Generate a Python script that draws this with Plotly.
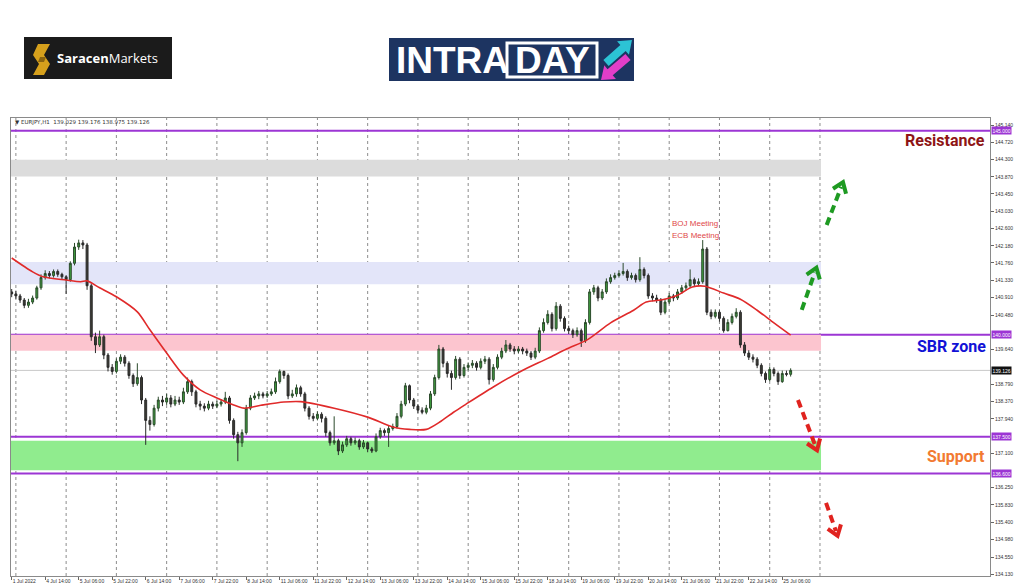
import math
import plotly.graph_objects as go

# ---------------- data ----------------
bar_index = list(range(0, 373, 2))          # 2-hour candles on an hourly bar index
first_open = 141.05
closes = [141.00, 140.95, 140.85, 140.72, 140.80, 140.90, 141.15, 141.40, 141.50, 141.45,
          141.55, 141.48, 141.42, 141.35, 141.75, 142.15, 142.25, 142.20, 141.20, 139.95,
          139.75, 139.95, 139.50, 139.20, 139.10, 139.35, 139.45, 139.30, 139.00, 138.80,
          138.95, 138.40, 137.90, 137.80, 138.20, 138.40, 138.35, 138.45, 138.30, 138.40,
          138.35, 138.60, 138.85, 138.60, 138.30, 138.25, 138.20, 138.30, 138.25, 138.30,
          138.35, 138.45, 137.90, 137.55, 137.35, 137.60, 138.20, 138.45, 138.50, 138.55,
          138.50, 138.55, 138.60, 138.85, 139.10, 139.00, 138.50, 138.55, 138.70, 138.55,
          138.20, 138.00, 137.95, 138.05, 137.95, 137.60, 137.35, 137.40, 137.15, 137.30,
          137.45, 137.35, 137.40, 137.25, 137.35, 137.20, 137.15, 137.50, 137.65, 137.60,
          137.70, 137.75, 138.00, 138.30, 138.75, 138.40, 138.25, 138.15, 138.10, 138.20,
          138.55, 138.95, 139.65, 139.30, 139.05, 138.95, 139.40, 139.00, 139.20, 139.25,
          139.30, 139.20, 139.35, 139.40, 138.90, 139.20, 139.45, 139.60, 139.75, 139.65,
          139.60, 139.65, 139.60, 139.55, 139.45, 139.60, 140.10, 140.30, 140.50, 140.15,
          140.70, 140.40, 140.15, 140.10, 140.00, 140.10, 139.85, 140.30, 141.05, 141.15,
          140.90, 141.05, 141.30, 141.40, 141.45, 141.50, 141.55, 141.40, 141.45, 141.35,
          141.60, 141.45, 140.95, 140.90, 140.85, 140.55, 140.80, 140.95, 140.90, 141.05,
          141.15, 141.20, 141.35, 141.25, 141.30, 142.10, 140.55, 140.45, 140.55, 140.40,
          140.10, 140.30, 140.45, 140.55, 139.75, 139.55, 139.45, 139.40, 139.25, 139.05,
          138.90, 139.15, 139.05, 138.85, 139.05, 139.029, 139.126]
highs = [141.12, 141.08, 141.00, 140.90, 140.88, 140.96, 141.20, 141.48, 141.58, 141.56,
         141.60, 141.60, 141.52, 141.46, 141.80, 142.25, 142.33, 142.32, 142.25, 141.25,
         140.05, 140.10, 140.00, 139.55, 139.28, 139.42, 139.52, 139.50, 139.35, 139.05,
         139.30, 139.00, 138.45, 138.00, 138.28, 138.48, 138.50, 138.55, 138.52, 138.50,
         138.48, 138.70, 138.95, 138.90, 138.65, 138.38, 138.32, 138.38, 138.36, 138.38,
         138.42, 138.60, 138.50, 137.95, 137.62, 137.68, 138.28, 138.52, 138.58, 138.62,
         138.60, 138.62, 138.68, 138.95, 139.15, 139.12, 139.05, 138.65, 138.78, 138.75,
         138.60, 138.25, 138.08, 138.12, 138.10, 138.00, 137.65, 138.00, 137.45, 137.38,
         137.52, 137.50, 137.48, 137.45, 137.42, 137.38, 137.25, 137.58, 137.72, 137.70,
         137.78, 137.82, 138.08, 138.38, 138.82, 138.78, 138.45, 138.30, 138.22, 138.28,
         138.62, 139.02, 139.75, 139.70, 139.35, 139.12, 139.48, 139.45, 139.28, 139.32,
         139.38, 139.35, 139.42, 139.48, 139.45, 139.28, 139.52, 139.68, 139.87, 139.80,
         139.72, 139.72, 139.70, 139.66, 139.60, 139.68, 140.18, 140.40, 140.60, 140.55,
         140.80, 140.75, 140.45, 140.22, 140.15, 140.18, 140.15, 140.38, 141.12, 141.22,
         141.20, 141.12, 141.38, 141.48, 141.52, 141.58, 141.76, 141.60, 141.52, 141.50,
         141.90, 141.65, 141.50, 141.02, 140.98, 140.90, 140.88, 141.02, 141.00, 141.12,
         141.22, 141.28, 141.60, 141.40, 141.38, 142.32, 142.15, 140.62, 140.62, 140.60,
         140.45, 140.38, 140.52, 140.65, 140.60, 139.82, 139.62, 139.52, 139.45, 139.30,
         139.10, 139.22, 139.20, 139.10, 139.12, 139.12, 139.176]
lows = [140.92, 140.88, 140.78, 140.65, 140.66, 140.75, 140.86, 141.10, 141.35, 141.38,
        141.40, 141.42, 141.35, 141.00, 141.30, 141.70, 142.08, 142.10, 141.10, 139.85,
        139.55, 139.70, 139.40, 139.10, 139.02, 139.05, 139.28, 139.22, 138.92, 138.72,
        138.75, 138.30, 137.30, 137.65, 137.75, 138.12, 138.25, 138.28, 138.22, 138.25,
        138.28, 138.30, 138.55, 138.50, 138.22, 138.15, 138.12, 138.15, 138.18, 138.20,
        138.24, 138.30, 137.82, 137.45, 136.90, 137.25, 137.55, 138.15, 138.40, 138.42,
        138.44, 138.45, 138.50, 138.55, 138.80, 138.92, 138.42, 138.45, 138.48, 138.48,
        138.12, 137.92, 137.88, 137.90, 137.85, 137.50, 137.28, 137.30, 137.05, 137.10,
        137.25, 137.28, 137.30, 137.18, 137.20, 137.12, 137.10, 137.12, 137.45, 137.52,
        137.25, 137.65, 137.70, 137.95, 138.25, 138.32, 138.18, 138.08, 138.05, 138.05,
        138.15, 138.50, 138.90, 139.20, 138.95, 138.65, 138.90, 138.92, 138.95, 139.12,
        139.18, 139.12, 139.15, 139.28, 138.78, 138.85, 139.15, 139.40, 139.55, 139.58,
        139.52, 139.55, 139.52, 139.48, 139.38, 139.40, 139.55, 140.05, 140.25, 140.08,
        140.10, 140.32, 140.08, 140.02, 139.92, 139.95, 139.70, 139.80, 140.25, 140.98,
        140.82, 140.85, 141.00, 141.25, 141.35, 141.40, 141.45, 141.32, 141.35, 141.28,
        141.30, 141.38, 140.88, 140.82, 140.78, 140.48, 140.50, 140.75, 140.82, 140.85,
        141.00, 141.08, 141.15, 141.18, 141.20, 141.25, 140.48, 140.38, 140.40, 140.32,
        140.05, 140.08, 140.25, 140.40, 139.68, 139.48, 139.38, 139.32, 139.18, 138.98,
        138.82, 138.86, 138.98, 138.77, 138.82, 138.98, 138.975]
opens = [first_open] + closes[:-1]

ma_index = [0, 10, 15, 26, 33, 36, 42, 50, 60, 66, 74, 82, 90, 98, 106, 111, 119, 130, 138, 154,
            170, 182, 190, 198, 205, 211, 217, 230, 243, 256, 265, 275, 286, 297, 303, 310, 318,
            325, 331, 340, 348, 356, 364, 372]
ma_values = [141.88, 141.54, 141.42, 141.34, 141.30, 141.32, 141.15, 140.93, 140.56, 140.12,
             139.55, 139.01, 138.65, 138.45, 138.28, 138.20, 138.27, 138.35, 138.36, 138.20,
             137.98, 137.74, 137.68, 137.68, 137.88, 138.10, 138.30, 138.72, 139.10, 139.42,
             139.65, 139.88, 140.29, 140.60, 140.80, 140.85, 140.97, 141.17, 141.19, 141.02,
             140.87, 140.60, 140.29, 139.99]

x_tick_labels = ["1 Jul 2022", "4 Jul 14:00", "5 Jul 06:00", "5 Jul 22:00", "6 Jul 14:00",
                 "7 Jul 06:00", "7 Jul 22:00", "8 Jul 14:00", "11 Jul 06:00", "11 Jul 22:00",
                 "12 Jul 14:00", "13 Jul 06:00", "13 Jul 22:00", "14 Jul 14:00", "15 Jul 06:00",
                 "15 Jul 22:00", "18 Jul 14:00", "19 Jul 06:00", "19 Jul 22:00", "20 Jul 14:00",
                 "21 Jul 06:00", "21 Jul 22:00", "22 Jul 14:00", "25 Jul 06:00"]
x_tick_index = list(range(0, 369, 16))
# price-scale labels (those hidden behind the level boxes are left out)
y_tick_values = [145.140, 144.720, 144.300, 143.870, 143.450, 143.030, 142.600, 142.180,
                 141.760, 141.330, 140.910, 140.480, 139.640,
                 138.790, 138.370, 137.940, 137.100, 136.250, 135.830, 135.400,
                 134.980, 134.550, 134.130]
grid_index = list(range(2, 387, 24))

level_lines = [145.000, 140.000, 137.500, 136.600]
current_price = 139.126
zones = [(143.88, 144.29, "#dcdcdc"), (141.24, 141.78, "#e3e5f9"),
         (139.61, 140.00, "#fcc5cf"), (136.68, 137.40, "#90ec8e")]
zone_end = 386.5

# arrows (bar index, price): tail -> tip
arrows = [((389.2, 142.69), (397.0, 143.74), "#1e9a22"),
          ((377.3, 140.61), (384.3, 141.64), "#1e9a22"),
          ((375.5, 138.40), (384.6, 137.17), "#e0231f"),
          ((388.9, 135.88), (394.4, 135.07), "#e0231f")]

# ---------------- geometry ----------------
W, H = 1024, 587
L, R, T, B = 11, 990, 118, 576
X0, X1 = -0.33, 467.2
Y0, Y1 = 134.086, 145.312
AXIS_FONT = 5


def d2p(x, y):
    return (L + (x - X0) / (X1 - X0) * (R - L), B - (y - Y0) / (Y1 - Y0) * (B - T))


def p2d(px, py):
    return (X0 + (px - L) / (R - L) * (X1 - X0), Y0 + (B - py) / (B - T) * (Y1 - Y0))


def pp(px, py):
    return ((px - L) / (R - L), (B - py) / (B - T))


fig = go.Figure()

fig.add_trace(go.Candlestick(
    x=bar_index, open=opens, high=highs, low=lows, close=closes,
    increasing=dict(line=dict(color="#2b4a2b", width=1), fillcolor="#3f9f3f"),
    decreasing=dict(line=dict(color="#2a2a2a", width=1), fillcolor="#3c3c34"),
    showlegend=False, hoverinfo="skip"))

fig.add_trace(go.Scatter(x=ma_index, y=ma_values, mode="lines",
                         line=dict(color="#e02a2a", width=1.6, shape="spline", smoothing=0.8),
                         showlegend=False, hoverinfo="skip"))

shapes = []
for gi in grid_index:
    shapes.append(dict(type="line", xref="x", yref="paper", x0=gi, x1=gi, y0=0, y1=1,
                       line=dict(color="#8c8c8c", width=1, dash="dot"), layer="below"))
for lo, hi, col in zones:
    shapes.append(dict(type="rect", xref="x", yref="y", x0=X0, x1=zone_end, y0=lo, y1=hi,
                       fillcolor=col, line=dict(width=0), layer="below"))
shapes.append(dict(type="line", xref="paper", yref="y", x0=0, x1=1, y0=current_price, y1=current_price,
                   line=dict(color="#c8c8c8", width=1), layer="below"))
for lv in level_lines:
    shapes.append(dict(type="line", xref="paper", yref="y", x0=0, x1=1, y0=lv, y1=lv,
                       line=dict(color="#9c36d4", width=2), layer="below"))

# dashed arrows
for tail, tip, col in arrows:
    tx, ty = d2p(*tail)
    hx, hy = d2p(*tip)
    dx, dy = hx - tx, hy - ty
    ln = math.hypot(dx, dy)
    ux, uy = dx / ln, dy / ln
    ex, ey = hx - ux * 5, hy - uy * 5
    a0 = p2d(tx, ty)
    a1 = p2d(ex, ey)
    shapes.append(dict(type="line", xref="x", yref="y", x0=a0[0], y0=a0[1], x1=a1[0], y1=a1[1],
                       line=dict(color=col, width=4, dash="8px,5px"), layer="above"))
    pts = []
    for ang in (0.62, -0.62):
        c, s = math.cos(ang), math.sin(ang)
        bx, by = -ux * c + uy * s, -ux * s - uy * c
        pts.append(p2d(hx + bx * 12, hy + by * 12))
    tp = p2d(hx, hy)
    path = "M %f,%f L %f,%f L %f,%f" % (pts[0][0], pts[0][1], tp[0], tp[1], pts[1][0], pts[1][1])
    shapes.append(dict(type="path", xref="x", yref="y", path=path,
                       line=dict(color=col, width=4), layer="above"))


# logos (paper coordinates from pixel helpers)
def rect_px(x0, y0, x1, y1, fill, line=None):
    a = pp(x0, y1)
    b = pp(x1, y0)
    return dict(type="rect", xref="paper", yref="paper", x0=a[0], y0=a[1], x1=b[0], y1=b[1],
                fillcolor=fill, line=line or dict(width=0), layer="above")


def poly_px(points, fill):
    conv = [pp(*p) for p in points]
    path = "M " + " L ".join("%f,%f" % c for c in conv) + " Z"
    return dict(type="path", xref="paper", yref="paper", path=path, fillcolor=fill,
                line=dict(width=0), layer="above")


def arrow_poly(tail, tip, sw, hw, hl):
    dx, dy = tip[0] - tail[0], tip[1] - tail[1]
    ln = math.hypot(dx, dy)
    ux, uy = dx / ln, dy / ln
    nx, ny = -uy, ux
    bx, by = tip[0] - ux * hl, tip[1] - uy * hl
    return [(tail[0] + nx * sw, tail[1] + ny * sw), (bx + nx * sw, by + ny * sw),
            (bx + nx * hw, by + ny * hw), tip, (bx - nx * hw, by - ny * hw),
            (bx - nx * sw, by - ny * sw), (tail[0] - nx * sw, tail[1] - ny * sw)]


shapes.append(rect_px(24, 37, 172, 79, "#1b1b1b"))
shapes.append(poly_px([(38, 44), (50, 44), (44, 55), (50, 64), (44, 75), (33, 75), (39, 64), (33, 55)], "#d6a01c"))
shapes.append(poly_px([(40, 57), (46, 57), (44, 62), (38, 62)], "#8a6410"))
shapes.append(rect_px(389, 38, 634, 81, "#1d3461"))
shapes.append(rect_px(507, 43, 597, 77, "rgba(0,0,0,0)", dict(color="white", width=3)))
shapes.append(poly_px(arrow_poly((606, 63), (632, 40), 4, 9, 12), "#2cc3d5"))
shapes.append(poly_px(arrow_poly((628, 57), (601, 80), 4, 9, 12), "#e23ec8"))

annotations = []


def txt(px, py, text, size, color, anchor="left", family="Liberation Sans, Arial", **kw):
    x, y = pp(px, py)
    annotations.append(dict(x=x, y=y, xref="paper", yref="paper", text=text, showarrow=False,
                            xanchor=anchor, yanchor="middle",
                            font=dict(size=size, color=color, family=family), **kw))


txt(13, 123, "\u25bc EURJPY,H1  139.029 139.176 138.975 139.126", 5.5, "#333333",
    family="DejaVu Sans, sans-serif")
txt(987, 141, "<b>Resistance</b>", 16, "#8e1515", anchor="right", family="Roboto, Liberation Sans")
txt(988, 346, "<b>SBR zone</b>", 16, "#1212d6", anchor="right", family="Roboto, Liberation Sans")
txt(987, 456, "<b>Support</b>", 16, "#f27a32", anchor="right", family="Roboto, Liberation Sans")
txt(670, 223, "BOJ Meeting", 8, "#e04848")
txt(670, 235, "ECB Meeting", 8, "#e04848")
txt(55, 58, "<b>Saracen</b>Markets", 13, "white", family="Open Sans, Liberation Sans")
txt(394, 60, "<b>INTRA</b>", 37, "white", family="Liberation Sans, Arial")
txt(552, 60, "<b>DAY</b>", 37, "white", anchor="center", family="Liberation Sans, Arial")

for lv in level_lines:
    annotations.append(dict(x=1, y=lv, xref="paper", yref="y", text="%.3f" % lv, showarrow=False,
                            xanchor="left", yanchor="middle", xshift=1, bgcolor="#9c36d4",
                            borderpad=0.5, font=dict(size=AXIS_FONT, color="white", family="Liberation Sans")))
annotations.append(dict(x=1, y=current_price, xref="paper", yref="y", text="%.3f" % current_price,
                        showarrow=False, xanchor="left", yanchor="middle", xshift=1,
                        bgcolor="#111111", borderpad=0.5,
                        font=dict(size=AXIS_FONT, color="white", family="Liberation Sans")))

fig.update_layout(
    width=W, height=H, margin=dict(l=L, r=W - R, t=T, b=H - B, autoexpand=False),
    paper_bgcolor="white", plot_bgcolor="white",
    shapes=shapes, annotations=annotations, boxgap=0.35,
    xaxis=dict(range=[X0, X1], rangeslider=dict(visible=False), showgrid=False, zeroline=False,
               tickmode="array", tickvals=x_tick_index, ticktext=x_tick_labels, tickangle=0,
               automargin=False,
               ticklabelposition="outside right", ticks="outside", ticklen=3, tickcolor="#666",
               tickfont=dict(size=AXIS_FONT, color="#333", family="Liberation Sans"),
               showline=True, linecolor="#8a8a8a", linewidth=1, mirror=True),
    yaxis=dict(range=[Y0, Y1], side="right", showgrid=False, zeroline=False, automargin=False,
               tickmode="array", tickvals=y_tick_values, ticktext=["%.3f" % v for v in y_tick_values],
               ticks="outside", ticklen=3, tickcolor="#666",
               tickfont=dict(size=AXIS_FONT, color="#333", family="Liberation Sans"),
               showline=True, linecolor="#8a8a8a", linewidth=1, mirror=True),
)

fig.write_html("out.html", config={"displayModeBar": False},
               post_script="document.body.style.margin='0';document.body.style.overflow='hidden';")
